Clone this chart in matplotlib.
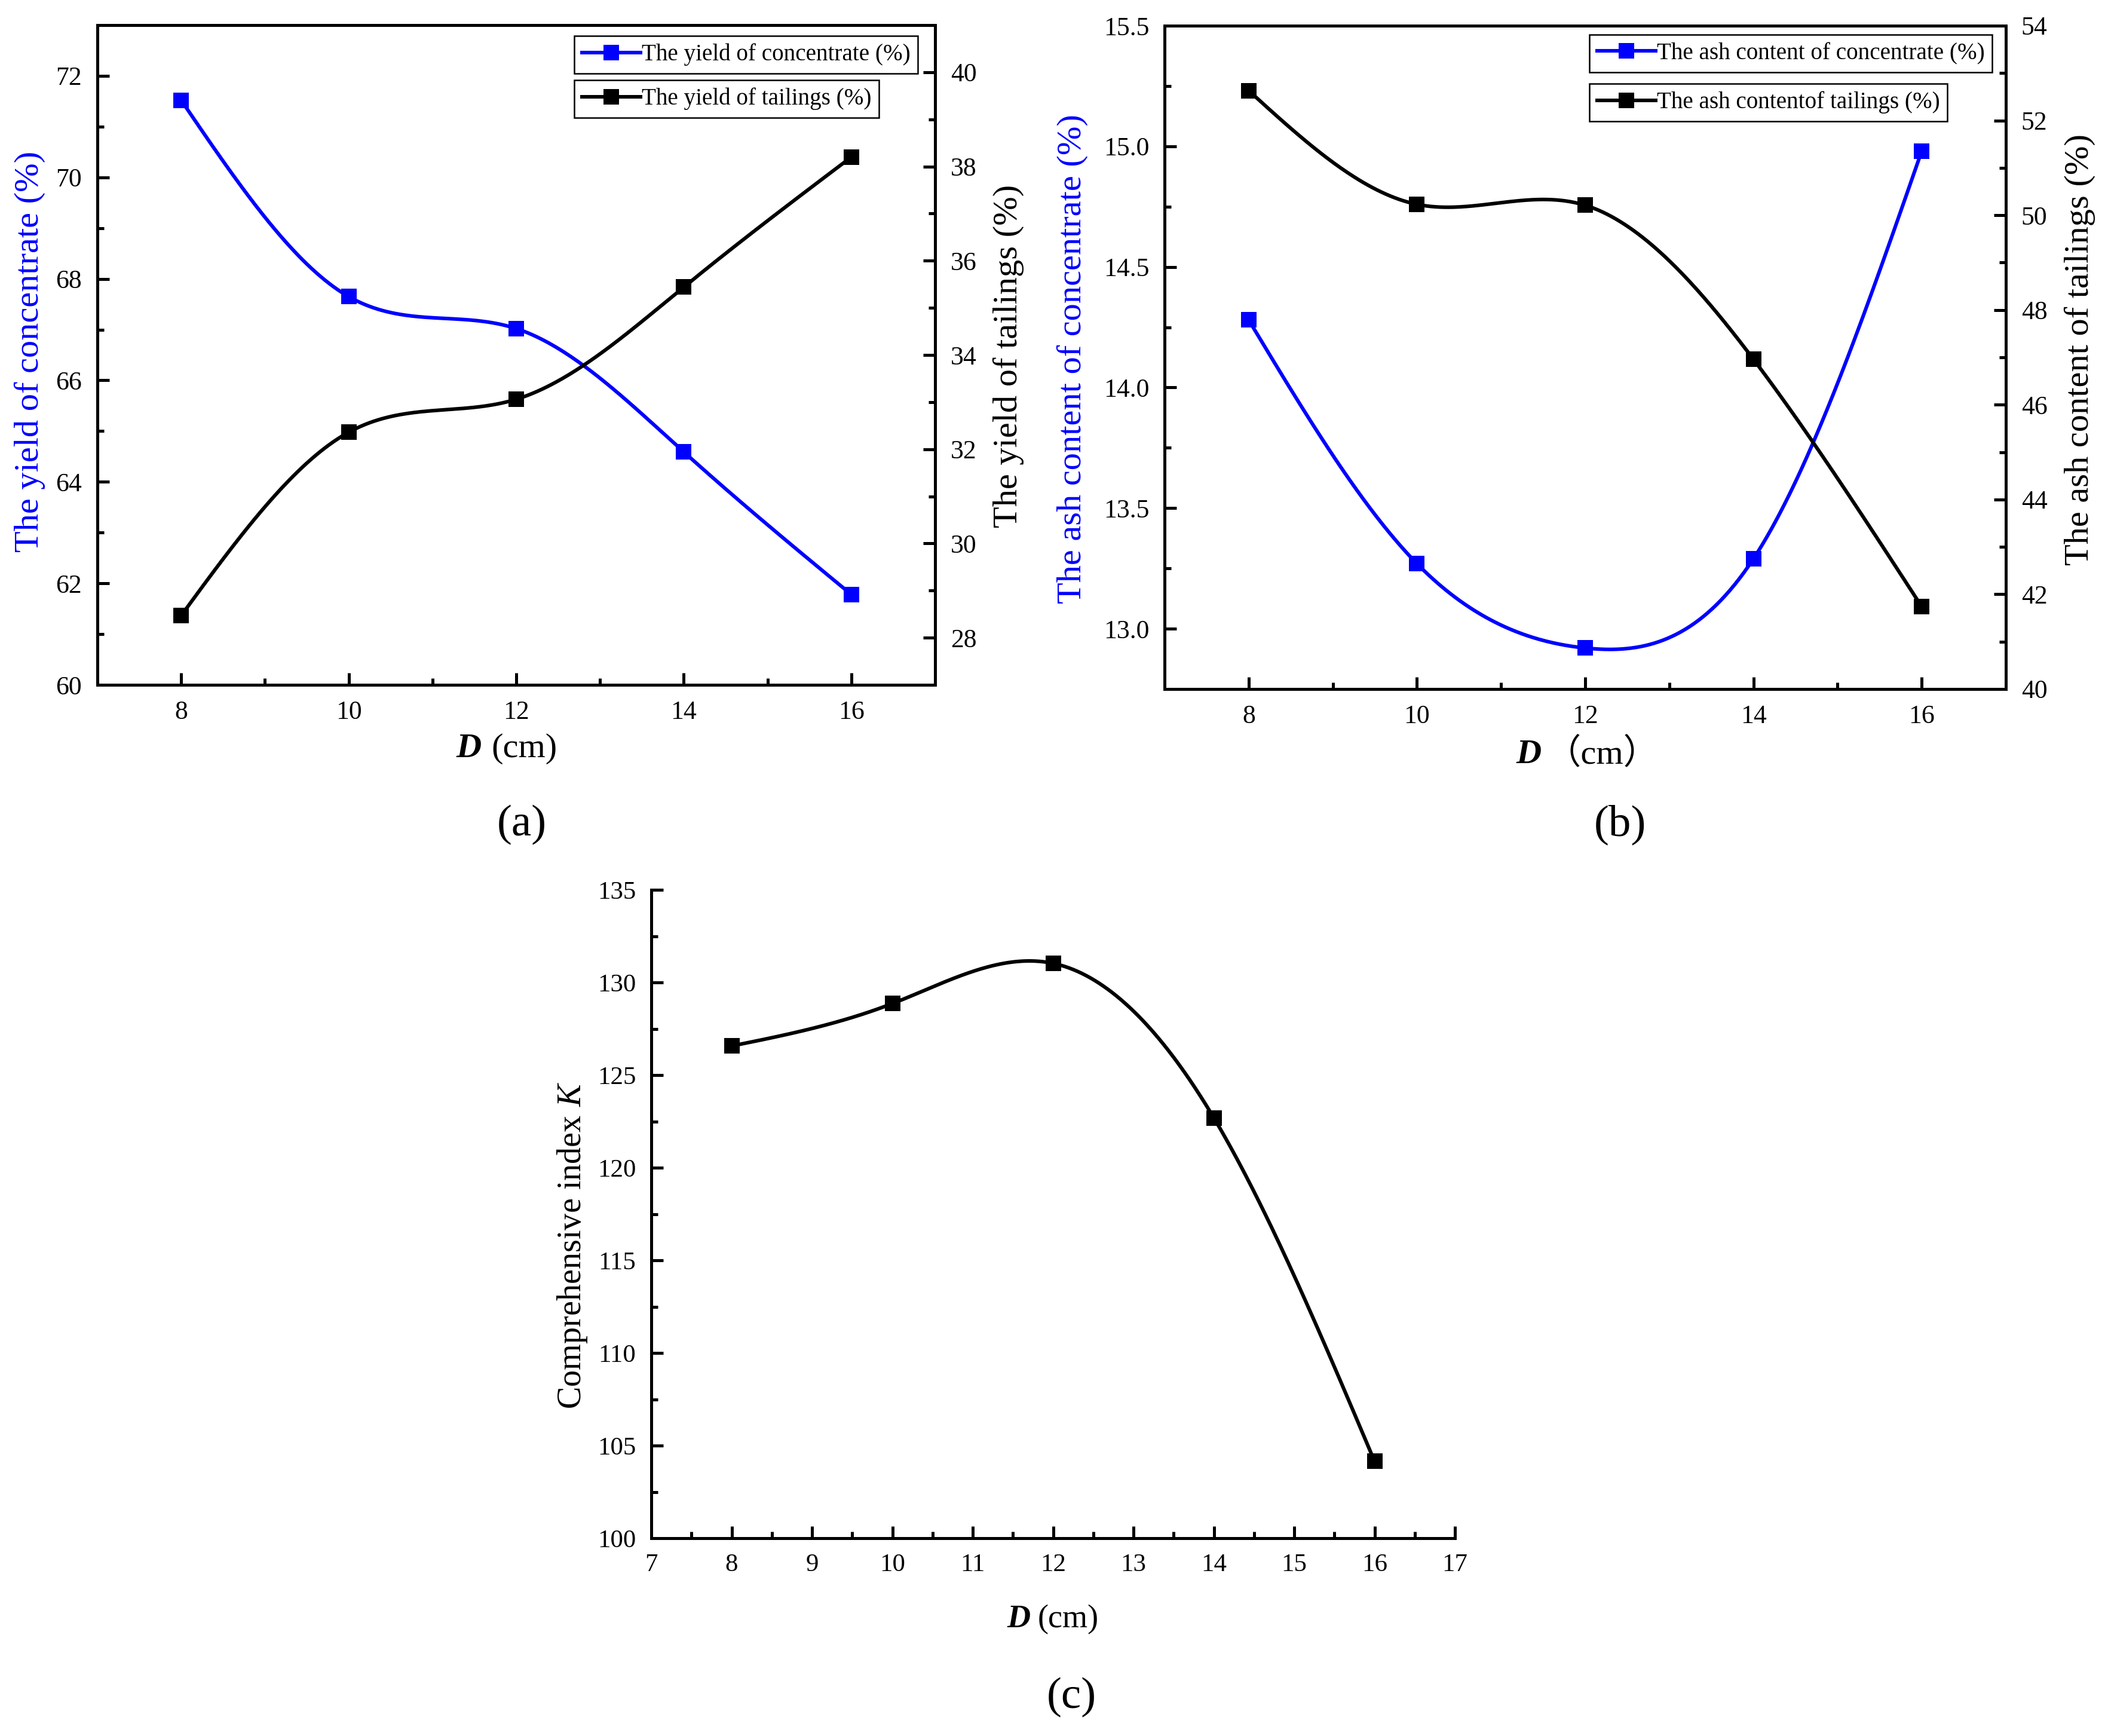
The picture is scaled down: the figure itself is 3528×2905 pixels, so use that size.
import numpy as np
import matplotlib
matplotlib.use("Agg")
import matplotlib.pyplot as plt
from matplotlib.lines import Line2D
from matplotlib.ticker import MultipleLocator, FormatStrFormatter

plt.rcParams["font.family"] = ["Liberation Serif", "Noto Sans CJK SC"]
plt.rcParams["mathtext.fontset"] = "custom"
plt.rcParams["mathtext.rm"] = "Liberation Serif"
plt.rcParams["mathtext.it"] = "Liberation Serif:italic"

# data
D_cm = [8, 10, 12, 14, 16]
yield_conc = [71.52, 67.65, 67.02, 64.59, 61.78]
yield_tail = [28.47, 32.36, 33.06, 35.44, 38.20]
ash_conc = [14.28, 13.27, 12.92, 13.29, 14.98]
ash_tail = [52.63, 50.23, 50.21, 46.96, 41.74]
index_K = [126.57, 128.86, 131.03, 122.69, 104.15]

W, H = 3528, 2905
BLUE = "#0000ff"
LW = 1.45
MS = 6.2


def natural_spline(x, y, n=300):
    # smooth connecting line through the points (Origin style spline)
    x = np.asarray(x, float)
    y = np.asarray(y, float)
    k = len(x)
    h = np.diff(x)
    A = np.zeros((k, k))
    r = np.zeros(k)
    A[0, 0] = A[-1, -1] = 1
    for i in range(1, k - 1):
        A[i, i - 1] = h[i - 1]
        A[i, i] = 2 * (h[i - 1] + h[i])
        A[i, i + 1] = h[i]
        r[i] = 6 * ((y[i + 1] - y[i]) / h[i] - (y[i] - y[i - 1]) / h[i - 1])
    M = np.linalg.solve(A, r)
    xs = np.linspace(x[0], x[-1], n)
    idx = np.clip(np.searchsorted(x, xs) - 1, 0, k - 2)
    x0, x1 = x[idx], x[idx + 1]
    hh = x1 - x0
    t0, t1 = x1 - xs, xs - x0
    ys = (M[idx] * t0 ** 3 / (6 * hh) + M[idx + 1] * t1 ** 3 / (6 * hh)
          + (y[idx] / hh - M[idx] * hh / 6) * t0
          + (y[idx + 1] / hh - M[idx + 1] * hh / 6) * t1)
    return xs, ys


def box(x0, y0, x1, y1):
    return [x0 / W, 1 - y1 / H, (x1 - x0) / W, (y1 - y0) / H]


def series(ax, x, y, color):
    xs, ys = natural_spline(x, y)
    ax.plot(xs, ys, color=color, lw=LW, zorder=3)
    ax.plot(x, y, "s", color=color, ms=MS, mew=0, zorder=4)


def style_ticks(ax, labelsize=10.5):
    ax.tick_params(which="both", direction="in", width=1.2, labelsize=labelsize, pad=6.2)
    ax.tick_params(which="major", length=4.8)
    ax.tick_params(which="minor", length=2.6)
    for s in ax.spines.values():
        s.set_linewidth(1.2)


def legend_box(fig, label, color, x, y):
    h = Line2D([], [], color=color, lw=LW, marker="s", ms=MS, mew=0)
    lg = fig.legend([h], [label], loc="upper left", bbox_to_anchor=(x / W, 1 - y / H),
                    fontsize=9.4, handlelength=2.5, handletextpad=0.05, borderpad=0.33,
                    borderaxespad=0, fancybox=False, edgecolor="black", framealpha=1)
    lg.get_frame().set_linewidth(0.6)
    return lg


def xlabel(fig, x_d, x_cm, y, unit, size=14):
    fig.text(x_d / W, 1 - y / H, "D", fontsize=size, fontweight="bold", style="italic",
             ha="right", va="center")
    fig.text(x_cm / W, 1 - y / H, unit, fontsize=size, ha="left", va="center")


def ylabel(fig, x, y, text, color="black", size=14):
    fig.text(x / W, 1 - y / H, text, fontsize=size, color=color, rotation=90,
             ha="center", va="center")


fig = plt.figure(figsize=(W / 300, H / 300), dpi=300)

# (a) yield
ax = fig.add_axes(box(163, 42, 1565, 1146))
series(ax, D_cm, yield_conc, BLUE)
ax.set_xlim(7, 17)
ax.set_ylim(60, 73)
ax.xaxis.set_major_locator(MultipleLocator(2))
ax.xaxis.set_minor_locator(MultipleLocator(1))
ax.yaxis.set_major_locator(MultipleLocator(2))
ax.yaxis.set_minor_locator(MultipleLocator(1))
style_ticks(ax)
ax2 = ax.twinx()
series(ax2, D_cm, yield_tail, "black")
ax2.set_ylim(27, 41)
ax2.yaxis.set_major_locator(MultipleLocator(2))
ax2.yaxis.set_minor_locator(MultipleLocator(1))
style_ticks(ax2)
ylabel(fig, 50, 588, "The yield of concentrate (%)", BLUE)
ylabel(fig, 1688, 596, "The yield of tailings (%)")
xlabel(fig, 806, 822, 1253, "(cm)")
legend_box(fig, "The yield of concentrate (%)", BLUE, 961, 60)
legend_box(fig, "The yield of tailings (%)", "black", 961, 134)
fig.text(873 / W, 1 - 1380 / H, "(a)", fontsize=18, ha="center", va="center")

# (b) ash content
bx = fig.add_axes(box(1949, 43, 3357, 1153))
series(bx, D_cm, ash_conc, BLUE)
bx.set_xlim(7, 17)
bx.set_ylim(12.75, 15.5)
bx.xaxis.set_major_locator(MultipleLocator(2))
bx.xaxis.set_minor_locator(MultipleLocator(1))
bx.yaxis.set_major_locator(MultipleLocator(0.5))
bx.yaxis.set_minor_locator(MultipleLocator(0.25))
bx.yaxis.set_major_formatter(FormatStrFormatter("%.1f"))
style_ticks(bx)
bx2 = bx.twinx()
series(bx2, D_cm, ash_tail, "black")
bx2.set_ylim(40, 54)
bx2.yaxis.set_major_locator(MultipleLocator(2))
bx2.yaxis.set_minor_locator(MultipleLocator(1))
style_ticks(bx2)
ylabel(fig, 1795, 600, "The ash content of concentrate (%)", BLUE)
ylabel(fig, 3481, 585, "The ash content of tailings (%)")
xlabel(fig, 2580, 2588, 1263, "（cm）")
legend_box(fig, "The ash content of concentrate (%)", BLUE, 2660, 58)
legend_box(fig, "The ash contentof tailings (%)", "black", 2660, 140)
fig.text(2711 / W, 1 - 1380 / H, "(b)", fontsize=18, ha="center", va="center")

# (c) comprehensive index
cx = fig.add_axes(box(1090, 1489, 2435, 2574))
series(cx, D_cm, index_K, "black")
cx.set_xlim(7, 17)
cx.set_ylim(100, 135)
cx.xaxis.set_major_locator(MultipleLocator(1))
cx.xaxis.set_minor_locator(MultipleLocator(0.5))
cx.yaxis.set_major_locator(MultipleLocator(5))
cx.yaxis.set_minor_locator(MultipleLocator(2.5))
cx.spines["top"].set_visible(False)
cx.spines["right"].set_visible(False)
style_ticks(cx, labelsize=10.3)
ylabel(fig, 958, 2084, "Comprehensive index $K$", size=13.5)
xlabel(fig, 1725, 1737, 2710, "(cm)", size=13)
fig.text(1793 / W, 1 - 2840 / H, "(c)", fontsize=18, ha="center", va="center")

fig.savefig("out.png", dpi=300, facecolor="white")
